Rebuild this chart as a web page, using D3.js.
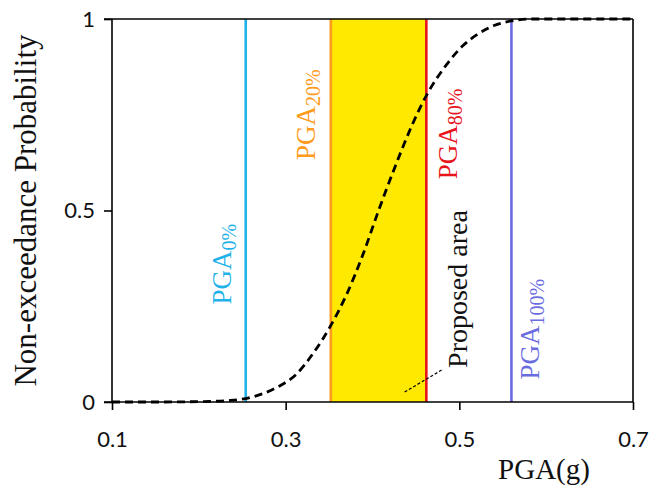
<!DOCTYPE html>
<html>
<head>
<meta charset="utf-8">
<script src="https://cdn.jsdelivr.net/npm/d3@7"></script>
<style>
  html, body { margin: 0; padding: 0; background: #fff; }
  svg { display: block; }
</style>
</head>
<body>
<svg id="chart" width="667" height="490"></svg>
<script>
// Fragility-style CDF of PGA with threshold markers
const pgaValues  = [0.10, 0.15, 0.20, 0.236, 0.254, 0.274, 0.293, 0.312, 0.331, 0.352, 0.370, 0.389, 0.407, 0.427, 0.445, 0.462, 0.485, 0.504, 0.523, 0.540, 0.560, 0.58, 0.62, 0.70];
const probValues = [0.000, 0.000, 0.001, 0.004, 0.009, 0.022, 0.042, 0.072, 0.125, 0.200, 0.280, 0.385, 0.500, 0.620, 0.720, 0.800, 0.880, 0.930, 0.963, 0.983, 0.995, 1.000, 1.000, 1.000];

const xTicks = [0.1, 0.3, 0.5, 0.7];
const yTicks = [0, 0.5, 1];

const thresholdNames  = ["0%", "20%", "80%", "100%"];
const thresholdPGA    = [0.254, 0.352, 0.462, 0.560];
const thresholdColors = ["#1fb2ea", "#ff9a1a", "#e8141c", "#6b6be0"];
// label anchor: centre along the line (probability) and baseline offset from the line
const labelProb = [0.36, 0.75, 0.70, 0.19];
const labelOffset = [-15, -16, 31, 28];

const areaText = "Proposed area";
const areaLabelPos = [0.509, 0.295];
const leaderFrom = [0.437, 0.026];
const leaderTo   = [0.480, 0.084];

const svg = d3.select("#chart");
const margin = { left: 112, right: 34, top: 19, bottom: 88 };
const W = 667, H = 490;

const x = d3.scaleLinear().domain([0.1, 0.7]).range([margin.left, W - margin.right]);
const y = d3.scaleLinear().domain([0, 1]).range([H - margin.bottom, margin.top]);

const serif = "'Liberation Serif', 'Times New Roman', serif";
const sans = "Lato, 'Open Sans', sans-serif";

// proposed area band between the 20% and 80% thresholds
svg.append("rect")
  .attr("x", x(thresholdPGA[1]))
  .attr("y", y(1))
  .attr("width", x(thresholdPGA[2]) - x(thresholdPGA[1]))
  .attr("height", y(0) - y(1))
  .attr("fill", "#ffe900");

// threshold lines
svg.selectAll("line.thr")
  .data(thresholdPGA)
  .join("line")
  .attr("class", "thr")
  .attr("x1", d => x(d)).attr("x2", d => x(d))
  .attr("y1", y(0)).attr("y2", y(1))
  .attr("stroke", (d, i) => thresholdColors[i])
  .attr("stroke-width", 2.6);

// CDF curve
const line = d3.line()
  .x((d, i) => x(pgaValues[i]))
  .y(d => y(d))
  .curve(d3.curveMonotoneX);

svg.append("path")
  .datum(probValues)
  .attr("d", line)
  .attr("fill", "none")
  .attr("stroke", "#000")
  .attr("stroke-width", 2.8)
  .attr("stroke-dasharray", "8,5");

// axes
const xAxis = d3.axisBottom(x).tickValues(xTicks).tickSize(8).tickFormat(d3.format(".1f"));
const gx = svg.append("g").attr("transform", `translate(0,${y(0)})`).call(xAxis);
gx.select(".domain").attr("d", `M${x(0.1) - 8},0H${x(0.7)}`).attr("stroke-width", 1.6);
gx.selectAll(".tick line").attr("stroke-width", 1.6);
gx.selectAll(".tick text")
  .attr("font-family", sans).attr("font-size", 22).attr("fill", "#111")
  .attr("dy", null).attr("y", 45);

const yAxis = d3.axisLeft(y).tickValues(yTicks).tickSize(8).tickPadding(9)
  .tickFormat(d => d === 0 ? "0" : d === 1 ? "1" : d3.format(".1f")(d));
const gy = svg.append("g").attr("transform", `translate(${x(0.1)},0)`).call(yAxis);
gy.select(".domain").attr("d", `M0,${y(0)}V${y(1)}`).attr("stroke-width", 1.6);
gy.selectAll(".tick line").attr("stroke-width", 1.6);
gy.selectAll(".tick text")
  .attr("font-family", sans).attr("font-size", 22).attr("fill", "#111");

// top and right frame
svg.append("line")
  .attr("x1", x(0.1) - 8).attr("x2", x(0.7))
  .attr("y1", y(1)).attr("y2", y(1))
  .attr("stroke", "#000").attr("stroke-width", 1.6);
svg.append("line")
  .attr("x1", x(0.7)).attr("x2", x(0.7))
  .attr("y1", y(1)).attr("y2", y(0))
  .attr("stroke", "#000").attr("stroke-width", 1.6);

// axis titles
svg.append("text")
  .attr("transform", `translate(36,${y(0.5)}) rotate(-90)`)
  .attr("text-anchor", "middle")
  .attr("font-family", serif).attr("font-size", 31).attr("fill", "#111")
  .text("Non-exceedance Probability");

svg.append("text")
  .attr("x", 544).attr("y", 479)
  .attr("text-anchor", "middle")
  .attr("font-family", serif).attr("font-size", 29).attr("fill", "#111")
  .text("PGA(g)");

// threshold labels, rotated, with subscripts
thresholdPGA.forEach((v, i) => {
  const t = svg.append("text")
    .attr("transform", `translate(${x(v) + labelOffset[i]},${y(labelProb[i])}) rotate(-90)`)
    .attr("text-anchor", "middle")
    .attr("font-family", serif)
    .attr("fill", thresholdColors[i]);
  t.append("tspan").attr("font-size", 27).text("PGA");
  t.append("tspan").attr("font-size", 20).attr("dy", 5).text(thresholdNames[i]);
});

// proposed area note with dashed leader
svg.append("text")
  .attr("transform", `translate(${x(areaLabelPos[0])},${y(areaLabelPos[1])}) rotate(-90)`)
  .attr("text-anchor", "middle")
  .attr("font-family", serif).attr("font-size", 28).attr("fill", "#111")
  .text(areaText);

svg.append("line")
  .attr("x1", x(leaderFrom[0])).attr("y1", y(leaderFrom[1]))
  .attr("x2", x(leaderTo[0])).attr("y2", y(leaderTo[1]))
  .attr("stroke", "#000").attr("stroke-width", 1.2)
  .attr("stroke-dasharray", "3,2");
</script>
</body>
</html>
